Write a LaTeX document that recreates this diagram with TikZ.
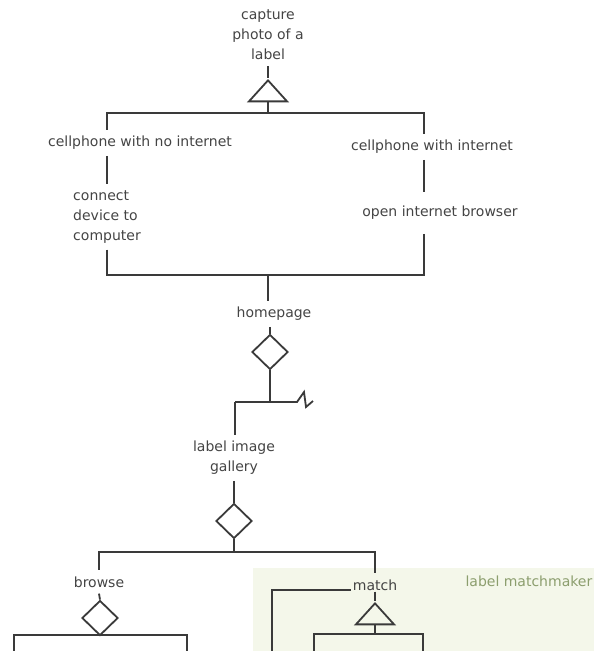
\documentclass[tikz,border=0pt]{standalone}
\usepackage{fontspec}
\setmainfont{DejaVu Sans}
\usetikzlibrary{shapes.geometric,positioning,calc}
\definecolor{linegray}{RGB}{58,58,58}
\definecolor{textgray}{RGB}{68,68,68}
\definecolor{matchfill}{RGB}{244,247,234}
\definecolor{matchgreen}{RGB}{140,158,110}

\begin{document}
\begin{tikzpicture}[x=1pt,y=-1pt,
    every node/.style={font=\fontsize{14}{20}\selectfont, text=textgray},
    item/.style={inner xsep=2pt, inner ysep=6pt, align=center},
    choice/.style={diamond, draw=linegray, line width=1.8pt, minimum width=36pt, minimum height=35pt, inner sep=0pt},
    merge/.style={isosceles triangle, isosceles triangle stretches, shape border rotate=90, draw=linegray, line width=1.8pt, minimum width=38pt, minimum height=21pt, inner sep=0pt},
    link/.style={draw=linegray, line width=1.8pt}]
    \useasboundingbox (0,0) rectangle (594,651);

    % Matchmaker area
    \fill[matchfill] (253,568) rectangle (600,660);
    \node[anchor=west, text=matchgreen] (mmtitle) at (462,581) {label matchmaker};

    % Capture
    \node[item] (capture) at (268,35) {capture\\photo of a\\label};
    \node[merge, anchor=apex] (capt) at (268,78) {};
    \coordinate (split) at (268,113);
    \draw[link] (capture.south) -- (capt.apex);
    \draw[link] (capt.lower side) -- (split);

    % Two phones
    \node[item] (nonet) at (140,143) {cellphone with no internet};
    \node[item, align=left] (connect) at (107,217) {connect\\device to\\computer};
    \node[item] (wnet) at (432,147) {cellphone with internet};
    \node[item] (browser) at (440,213) {open internet browser};
    \coordinate (rcol) at (424,113);
    \draw[link] (split) -| (nonet.north -| connect.north);
    \draw[link] (split) -- (rcol) -- (rcol |- wnet.north);
    \draw[link] (nonet.south -| connect.north) -- (connect.north);
    \draw[link] (wnet.south -| rcol) -- ([yshift=8pt]browser.north -| rcol);

    % Homepage
    \coordinate (join) at (268,275);
    \node[item] (home) at (274,314) {homepage};
    \draw[link] (connect.south) |- (join);
    \draw[link] ([yshift=-8pt]browser.south -| rcol) |- (join);
    \draw[link] (join) -- (join |- home.north);
    \node[choice] (homechoice) at (270,352) {};
    \draw[link] (home.south -| homechoice) -- (homechoice.north);
    \coordinate (homesplit) at (270,402);
    \coordinate (galcorner) at (235,402);
    \coordinate (breakend) at (297,402);
    \draw[link] (homechoice.south) -- (homesplit);
    \draw[link] (galcorner) -- (breakend) -- ++(7,-10) -- ++(2,15) -- ++(7,-6);

    % Gallery
    \node[item] (gallery) at (234,458) {label image\\gallery};
    \draw[link] (galcorner) -- (galcorner |- gallery.north);
    \node[choice] (galchoice) at (234,521) {};
    \draw[link] (gallery.south) -- (galchoice.north);
    \coordinate (galsplit) at (234,552);
    \draw[link] (galchoice.south) -- (galsplit);
    \node[item] (browse) at (99,582) {browse};
    \node[item] (match) at (375,585) {match};
    \draw[link] (galsplit) -| (browse.north);
    \draw[link] (galsplit) -| (match.north);

    % Browse
    \node[choice] (browsechoice) at (100,618) {};
    \draw[link] (browse.south) -- (browsechoice.north);
    \coordinate (browsesplit) at (100,635);
    \coordinate (browseleft) at (14,660);
    \coordinate (browseright) at (187,660);
    \draw[link] (browsechoice.south) -- (browsesplit);
    \draw[link] (browsesplit) -| (browseleft);
    \draw[link] (browsesplit) -| (browseright);

    % Match
    \node[merge, anchor=apex] (matcht) at (375,601) {};
    \draw[link] ([yshift=5pt]match.south) -- (matcht.apex);
    \coordinate (matchloop) at (272,660);
    \draw[link] (match.base west) -| (matchloop);
    \coordinate (matchsplit) at (375,634);
    \coordinate (matchleft) at (314,660);
    \coordinate (matchright) at (423,660);
    \draw[link] (matcht.lower side) -- (matchsplit);
    \draw[link] (matchsplit) -| (matchleft);
    \draw[link] (matchsplit) -| (matchright);
\end{tikzpicture}
\end{document}
